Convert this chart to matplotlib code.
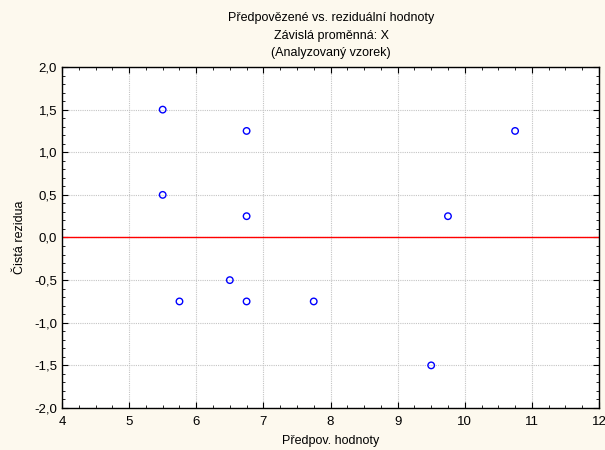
import numpy as np
import matplotlib
matplotlib.use('Agg')
import matplotlib.pyplot as plt
from matplotlib.ticker import MultipleLocator, FuncFormatter

plt.rcParams['font.family'] = ['Liberation Sans', 'DejaVu Sans']

# predicted values vs. raw residuals
predicted = [5.5, 5.5, 6.75, 6.75, 6.5, 5.75, 6.75, 7.75, 9.5, 9.75, 10.75]
residuals = [1.5, 0.5, 1.25, 0.25, -0.5, -0.75, -0.75, -0.75, -1.5, 0.25, 1.25]

title_lines = ['Předpovězené vs. reziduální hodnoty',
               'Závislá proměnná: X',
               '(Analyzovaný vzorek)']

fig = plt.figure(figsize=(6.05, 4.5), dpi=100, facecolor='#fdf9ee')
ax = fig.add_axes([62 / 605, 1 - 408 / 450, (599 - 62) / 605, (408 - 67) / 450])
ax.set_facecolor('white')

ax.scatter(predicted, residuals, s=22, facecolors='none', edgecolors='#0000ff',
           linewidths=1.0, zorder=3)
ax.axhline(0, color='#ff0000', lw=1.0, zorder=2)

ax.set_xlim(4, 12)
ax.set_ylim(-2, 2)
ax.xaxis.set_major_locator(MultipleLocator(1))
ax.xaxis.set_minor_locator(MultipleLocator(0.25))
ax.yaxis.set_major_locator(MultipleLocator(0.5))
ax.yaxis.set_minor_locator(MultipleLocator(0.1))
ax.yaxis.set_major_formatter(FuncFormatter(lambda v, p: f'{v:.1f}'.replace('.', ',')))

ax.grid(True, which='major', color='#c4c4c4', ls=(0, (1, 1)), lw=0.8)
ax.tick_params(which='both', direction='in', top=True, right=True, labelsize=9.5)
ax.tick_params(which='major', length=4, width=0.8)
ax.tick_params(axis='x', which='major', pad=6)
ax.tick_params(which='minor', length=2, width=0.6)
for s in ax.spines.values():
    s.set_linewidth(1.0)
    s.set_color('black')

ax.set_xlabel('Předpov. hodnoty', fontsize=9, labelpad=5)
ax.set_ylabel('Čistá rezidua', fontsize=9, labelpad=6)

for i, line in enumerate(title_lines):
    fig.text(331 / 605, 1 - (18 + i * 17.5) / 450, line, ha='center', va='center', fontsize=9)

fig.savefig('out.png', dpi=100, facecolor=fig.get_facecolor())
